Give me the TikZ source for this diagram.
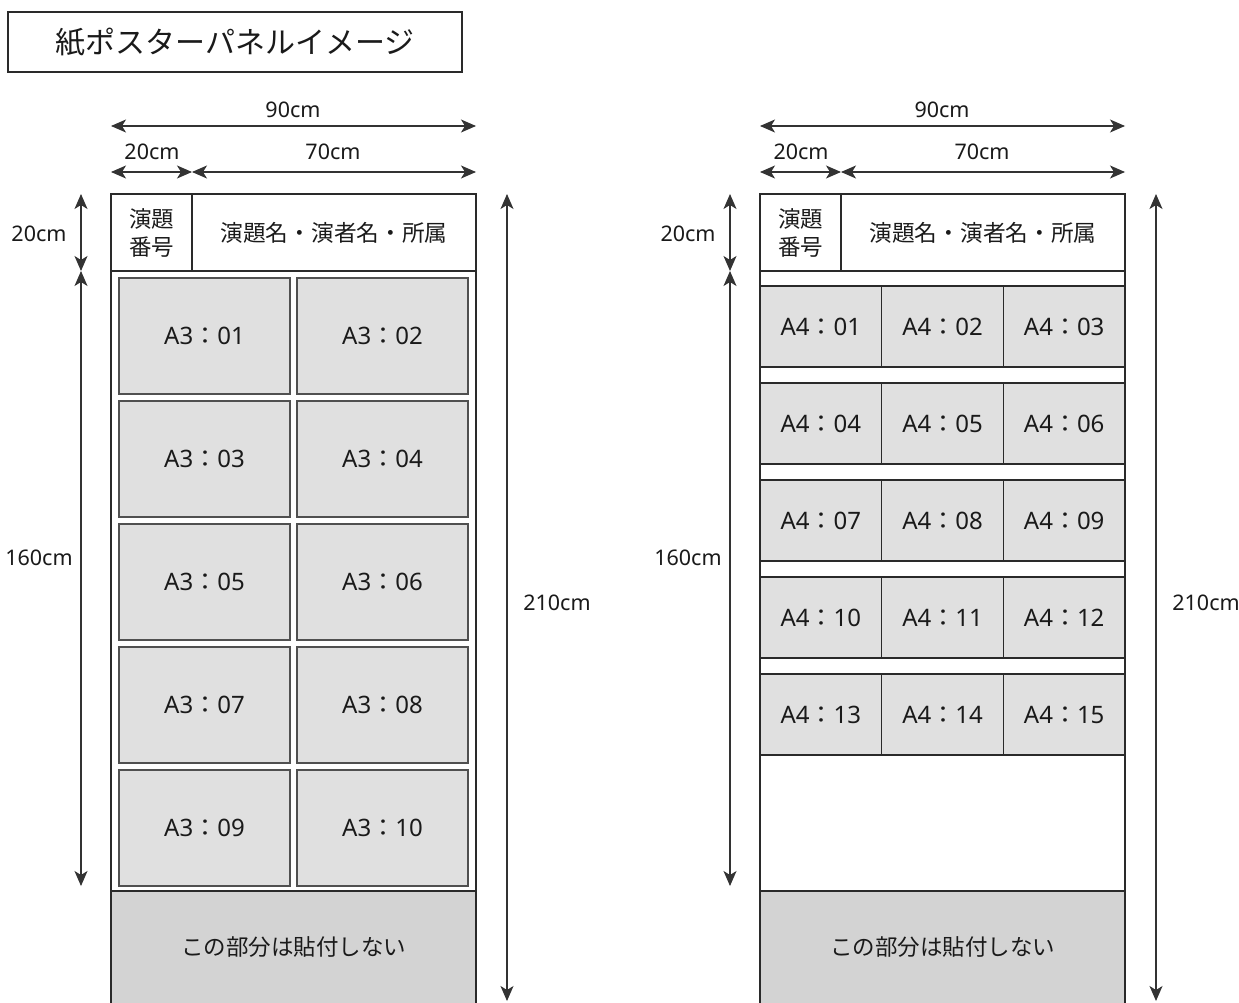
\documentclass[tikz,border=0pt]{standalone}
\usepackage{fontspec}
\setmainfont{Noto Sans CJK JP}
\newfontfamily\latinf{Noto Sans}
\usetikzlibrary{arrows.meta}
\definecolor{txt}{HTML}{1A1A1A}
\definecolor{edge}{HTML}{2A2A2A}
\definecolor{cellfill}{HTML}{E0E0E0}
\definecolor{offfill}{HTML}{D3D3D3}
\definecolor{celledge}{HTML}{505050}
\newcommand{\cl}[2]{{\latinf #1}：{\latinf #2}}
\tikzset{
  fz/.style={font=\fontsize{#1}{30}\selectfont, text=txt},
  pbox/.style={draw=edge, line width=1.2pt, inner sep=0pt, outer sep=0pt},
  acell/.style={pbox, draw=celledge, fill=cellfill, minimum width=171pt, minimum height=116pt, fz=24},
  bcell/.style={pbox, fill=cellfill, minimum width=121.7pt, minimum height=81pt, fz=24},
  dimline/.style={draw=black!80, line width=1.1pt, {Stealth[length=15pt,width=13pt,inset=4pt]}-{Stealth[length=15pt,width=13pt,inset=4pt]}},
  dimlbl/.style={font=\latinf\fontsize{21.5}{26}\selectfont, text=txt, inner sep=0pt},
}
\begin{document}
\begin{tikzpicture}[x=1pt,y=-1pt]
\useasboundingbox (0,0) rectangle (1239,1003);
\fill[white] (0,0) rectangle (1239,1003);

\node[pbox, minimum width=454pt, minimum height=60pt, fz=30] (title) at (235,42) {紙ポスターパネルイメージ};

\foreach \pfx/\dx in {L-/0, R-/649} {
\begin{scope}[xshift=\dx, name prefix=\pfx]
  % header
  \node[pbox, minimum width=81pt, minimum height=77pt, align=center, text=txt, font=\fontsize{22.5}{28}\selectfont] (hnum) at (151.5,232.5) {演題\\番号};
  \node[pbox, minimum width=284pt, minimum height=77pt, fz=22.7] (htitle) at (334,232.5) {演題名・演者名・所属};
  % body
  \node[pbox, minimum width=365pt, minimum height=620pt] (body) at (293.5,581) {};
  % excluded part
  \node[pbox, fill=offfill, minimum width=365pt, minimum height=116pt] (off) at (293.5,949) {};
  \node[fz=22.5] (offtxt) at (293.5,947) {この部分は貼付しない};
  % dimension anchors
  \coordinate (tl) at (111,126); \coordinate (tr) at (476,126);
  \coordinate (ml) at (111,172); \coordinate (mm) at (192,172); \coordinate (mr) at (476,172);
  \coordinate (v1) at (81,194); \coordinate (v2) at (81,271); \coordinate (v3) at (81,886);
  \coordinate (w1) at (507,194); \coordinate (w2) at (507,1001);
  \draw[dimline] (tl) -- (tr);
  \draw[dimline] (ml) -- (mm);
  \draw[dimline] (mm) -- (mr);
  \draw[dimline] (v1) -- (v2);
  \draw[dimline] (v2) -- (v3);
  \draw[dimline] (w1) -- (w2);
  \node[dimlbl] (l90) at (293,110) {90cm};
  \node[dimlbl] (l20a) at (152,152) {20cm};
  \node[dimlbl] (l70) at (333,152) {70cm};
  \node[dimlbl] (l20b) at (39,234) {20cm};
  \node[dimlbl] (l160) at (39,558) {160cm};
  \node[dimlbl] (l210) at (557,603) {210cm};
\end{scope}
}
% A3 cells (left)
\node[acell] (a01) at (204.5,336) {\cl{A3}{01}};
\node[acell] (a02) at (382.5,336) {\cl{A3}{02}};
\node[acell] (a03) at (204.5,459) {\cl{A3}{03}};
\node[acell] (a04) at (382.5,459) {\cl{A3}{04}};
\node[acell] (a05) at (204.5,582) {\cl{A3}{05}};
\node[acell] (a06) at (382.5,582) {\cl{A3}{06}};
\node[acell] (a07) at (204.5,705) {\cl{A3}{07}};
\node[acell] (a08) at (382.5,705) {\cl{A3}{08}};
\node[acell] (a09) at (204.5,828) {\cl{A3}{09}};
\node[acell] (a10) at (382.5,828) {\cl{A3}{10}};
% A4 cells (right)
\begin{scope}[xshift=649]
\node[bcell] (b01) at (171.8,326.5) {\cl{A4}{01}};
\node[bcell] (b02) at (293.5,326.5) {\cl{A4}{02}};
\node[bcell] (b03) at (415.2,326.5) {\cl{A4}{03}};
\node[bcell] (b04) at (171.8,423.5) {\cl{A4}{04}};
\node[bcell] (b05) at (293.5,423.5) {\cl{A4}{05}};
\node[bcell] (b06) at (415.2,423.5) {\cl{A4}{06}};
\node[bcell] (b07) at (171.8,520.5) {\cl{A4}{07}};
\node[bcell] (b08) at (293.5,520.5) {\cl{A4}{08}};
\node[bcell] (b09) at (415.2,520.5) {\cl{A4}{09}};
\node[bcell] (b10) at (171.8,617.5) {\cl{A4}{10}};
\node[bcell] (b11) at (293.5,617.5) {\cl{A4}{11}};
\node[bcell] (b12) at (415.2,617.5) {\cl{A4}{12}};
\node[bcell] (b13) at (171.8,714.5) {\cl{A4}{13}};
\node[bcell] (b14) at (293.5,714.5) {\cl{A4}{14}};
\node[bcell] (b15) at (415.2,714.5) {\cl{A4}{15}};
\end{scope}
\end{tikzpicture}
\end{document}
